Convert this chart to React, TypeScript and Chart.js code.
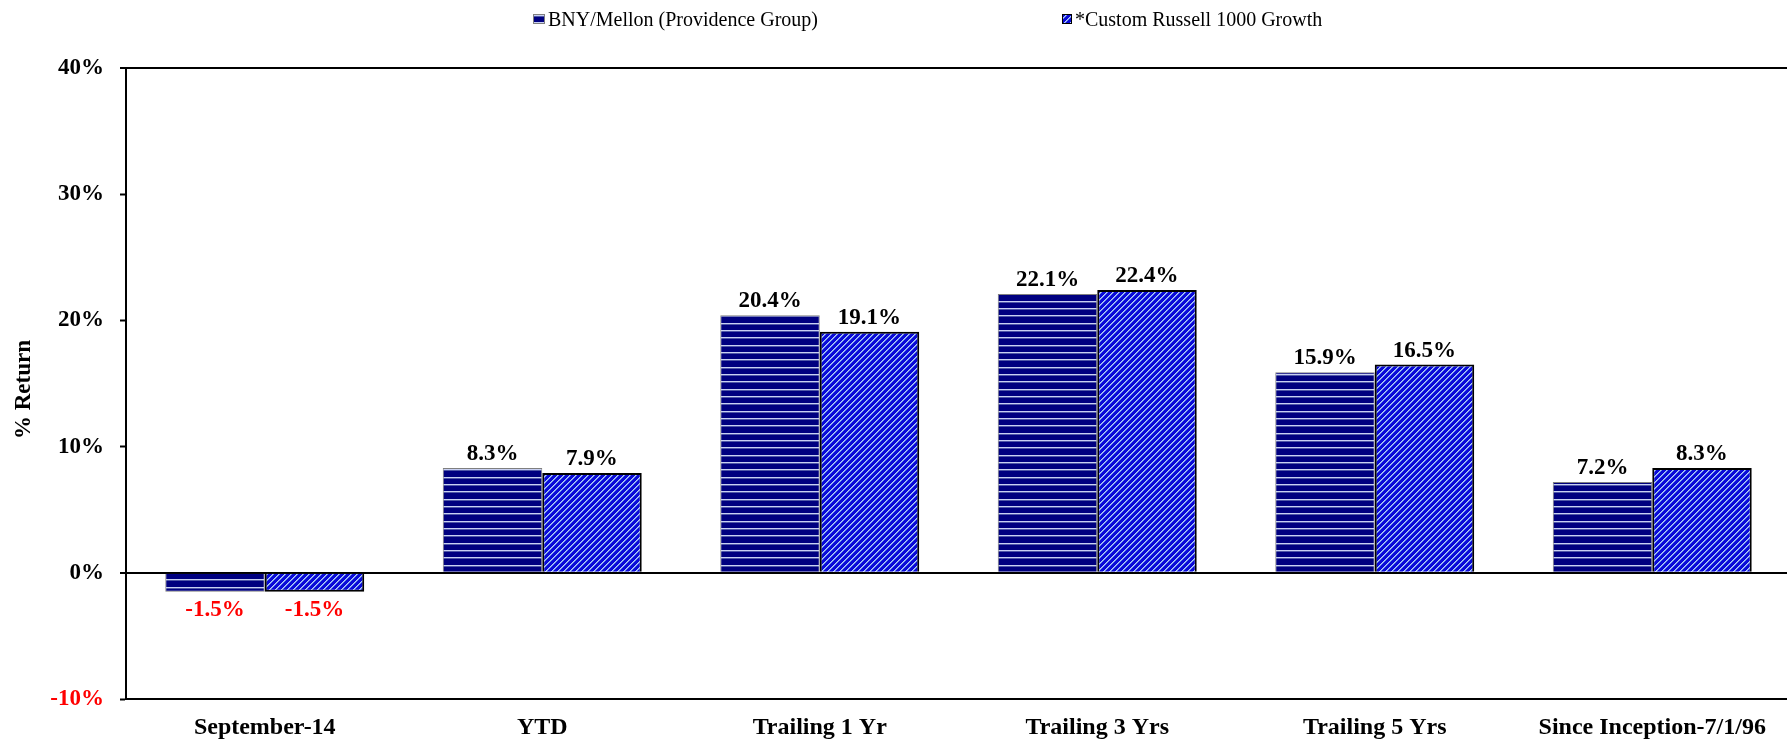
import React, { useEffect, useRef } from "react";
import { Chart, registerables } from "chart.js";

Chart.register(...registerables);

const categories = [
  "September-14",
  "YTD",
  "Trailing 1 Yr",
  "Trailing 3 Yrs",
  "Trailing 5 Yrs",
  "Since Inception-7/1/96",
];
const seriesNames = ["BNY/Mellon (Providence Group)", "*Custom Russell 1000 Growth"];
const bnyValues = [-1.5, 8.3, 20.4, 22.1, 15.9, 7.2];
const russellValues = [-1.5, 7.9, 19.1, 22.4, 16.5, 8.3];
const yMin = -10;
const yMax = 40;
const yStep = 10;
const yTitle = "% Return";

const FONT = "'Liberation Serif', 'Times New Roman', serif";

function makeHorizontalPattern(ctx: CanvasRenderingContext2D) {
  const c = document.createElement("canvas");
  c.width = 8;
  c.height = 22;
  const g = c.getContext("2d")!;
  g.fillStyle = "#000080";
  g.fillRect(0, 0, 8, 22);
  g.fillStyle = "#c8d0f4";
  [0, 7, 15].forEach((y) => g.fillRect(0, y, 8, 1));
  g.fillStyle = "#5058a8";
  [1, 8, 16].forEach((y) => g.fillRect(0, y, 8, 1));
  return ctx.createPattern(c, "repeat")!;
}

function makeDiagonalPattern(ctx: CanvasRenderingContext2D) {
  const n = 6;
  const c = document.createElement("canvas");
  c.width = n;
  c.height = n;
  const g = c.getContext("2d")!;
  g.fillStyle = "#0a0ad8";
  g.fillRect(0, 0, n, n);
  for (let y = 0; y < n; y++) {
    const x1 = (n - y) % n;
    const x2 = (n + 1 - y) % n;
    g.fillStyle = "#b4ccf8";
    g.fillRect(x1, y, 1, 1);
    g.fillStyle = "#7090ec";
    g.fillRect(x2, y, 1, 1);
  }
  return ctx.createPattern(c, "repeat")!;
}

export default function App() {
  const canvasRef = useRef<HTMLCanvasElement | null>(null);

  useEffect(() => {
    const canvas = canvasRef.current!;
    const ctx = canvas.getContext("2d")!;
    const hPat = makeHorizontalPattern(ctx);
    const dPat = makeDiagonalPattern(ctx);

    const labelPlugin = {
      id: "valueLabels",
      afterDatasetsDraw(chart: any) {
        const c = chart.ctx;
        c.save();
        c.font = `bold 23px ${FONT}`;
        c.textAlign = "center";
        c.textBaseline = "alphabetic";
        chart.data.datasets.forEach((ds: any, di: number) => {
          const meta = chart.getDatasetMeta(di);
          meta.data.forEach((el: any, i: number) => {
            const v = ds.data[i] as number;
            const txt = v.toFixed(1) + "%";
            if (v < 0) {
              c.fillStyle = "#ff0000";
              c.fillText(txt, el.x, el.y + 24);
            } else {
              c.fillStyle = "#000000";
              c.fillText(txt, el.x, el.y - 8);
            }
          });
        });
        c.restore();
      },
    };

    const decorPlugin = {
      id: "decor",
      afterDraw(chart: any) {
        const c = chart.ctx;
        c.save();
        c.font = `bold 23px ${FONT}`;
        c.fillStyle = "#000";
        c.textAlign = "center";
        c.textBaseline = "middle";
        const area = chart.chartArea;
        c.translate(24, (area.top + area.bottom) / 2 + 6);
        c.rotate(-Math.PI / 2);
        c.fillText(yTitle, 0, 0);
        c.restore();

        c.save();
        c.font = `20px ${FONT}`;
        c.textAlign = "left";
        c.textBaseline = "alphabetic";
        c.fillStyle = hPat;
        c.fillRect(533, 14, 12, 10);
        c.strokeStyle = "#7f7f7f";
        c.lineWidth = 1;
        c.strokeRect(533.5, 14.5, 11, 9);
        c.fillStyle = "#000";
        c.fillText(seriesNames[0], 548, 26);

        c.fillStyle = dPat;
        c.fillRect(1062, 14, 10, 10);
        c.strokeStyle = "#000";
        c.lineWidth = 1;
        c.strokeRect(1062.5, 14.5, 9, 9);
        c.fillStyle = "#000";
        c.fillText(seriesNames[1], 1075, 26);
        c.restore();
      },
    };

    const chart = new Chart(canvas, {
      type: "bar",
      data: {
        labels: categories,
        datasets: [
          {
            label: seriesNames[0],
            data: bnyValues,
            backgroundColor: hPat,
            borderColor: "#7f7f7f",
            borderWidth: 1,
            barPercentage: 1,
            categoryPercentage: 0.717,
          },
          {
            label: seriesNames[1],
            data: russellValues,
            backgroundColor: dPat,
            borderColor: "#000000",
            borderWidth: 2,
            barPercentage: 1,
            categoryPercentage: 0.717,
          },
        ],
      },
      options: {
        responsive: false,
        animation: false,
        devicePixelRatio: 1,
        layout: {
          padding: { left: 0, top: 68, right: 9, bottom: 0 },
          autoPadding: false,
        } as any,
        plugins: {
          legend: { display: false },
          tooltip: { enabled: false },
        },
        scales: {
          x: {
            grid: { display: false, drawTicks: false },
            border: { display: true, color: "#000", width: 2 },
            ticks: {
              font: { family: FONT, size: 24, weight: "bold" },
              color: "#000",
              padding: 14,
              autoSkip: false,
              maxRotation: 0,
            },
            afterFit: (s: any) => {
              s.height = 41;
            },
          },
          y: {
            min: yMin,
            max: yMax,
            ticks: {
              stepSize: yStep,
              callback: (v: any) => `${v}%`,
              color: (c: any) => (c.tick && c.tick.value < 0 ? "#ff0000" : "#000"),
              font: { family: FONT, size: 23, weight: "bold" },
              padding: 16,
            },
            grid: {
              color: (c: any) =>
                c.tick && (c.tick.value === 0 || c.tick.value === yMax) ? "#000" : "rgba(0,0,0,0)",
              lineWidth: (c: any) =>
                c.tick && (c.tick.value === 0 || c.tick.value === yMax) ? 2 : 1,
              tickColor: "#000",
              tickLength: 6,
              tickWidth: 2,
              drawOnChartArea: true,
            },
            border: { display: true, color: "#000", width: 2 },
            afterFit: (s: any) => {
              s.width = 126;
            },
          },
        },
      } as any,
      plugins: [labelPlugin, decorPlugin],
    });

    return () => chart.destroy();
  }, []);

  return (
    <div
      style={{
        position: "absolute",
        left: 0,
        top: 0,
        width: 1787,
        height: 740,
        overflow: "hidden",
        background: "#fff",
      }}
    >
      <canvas
        ref={canvasRef}
        width={1800}
        height={740}
        style={{ display: "block", width: 1800, height: 740 }}
      />
    </div>
  );
}
